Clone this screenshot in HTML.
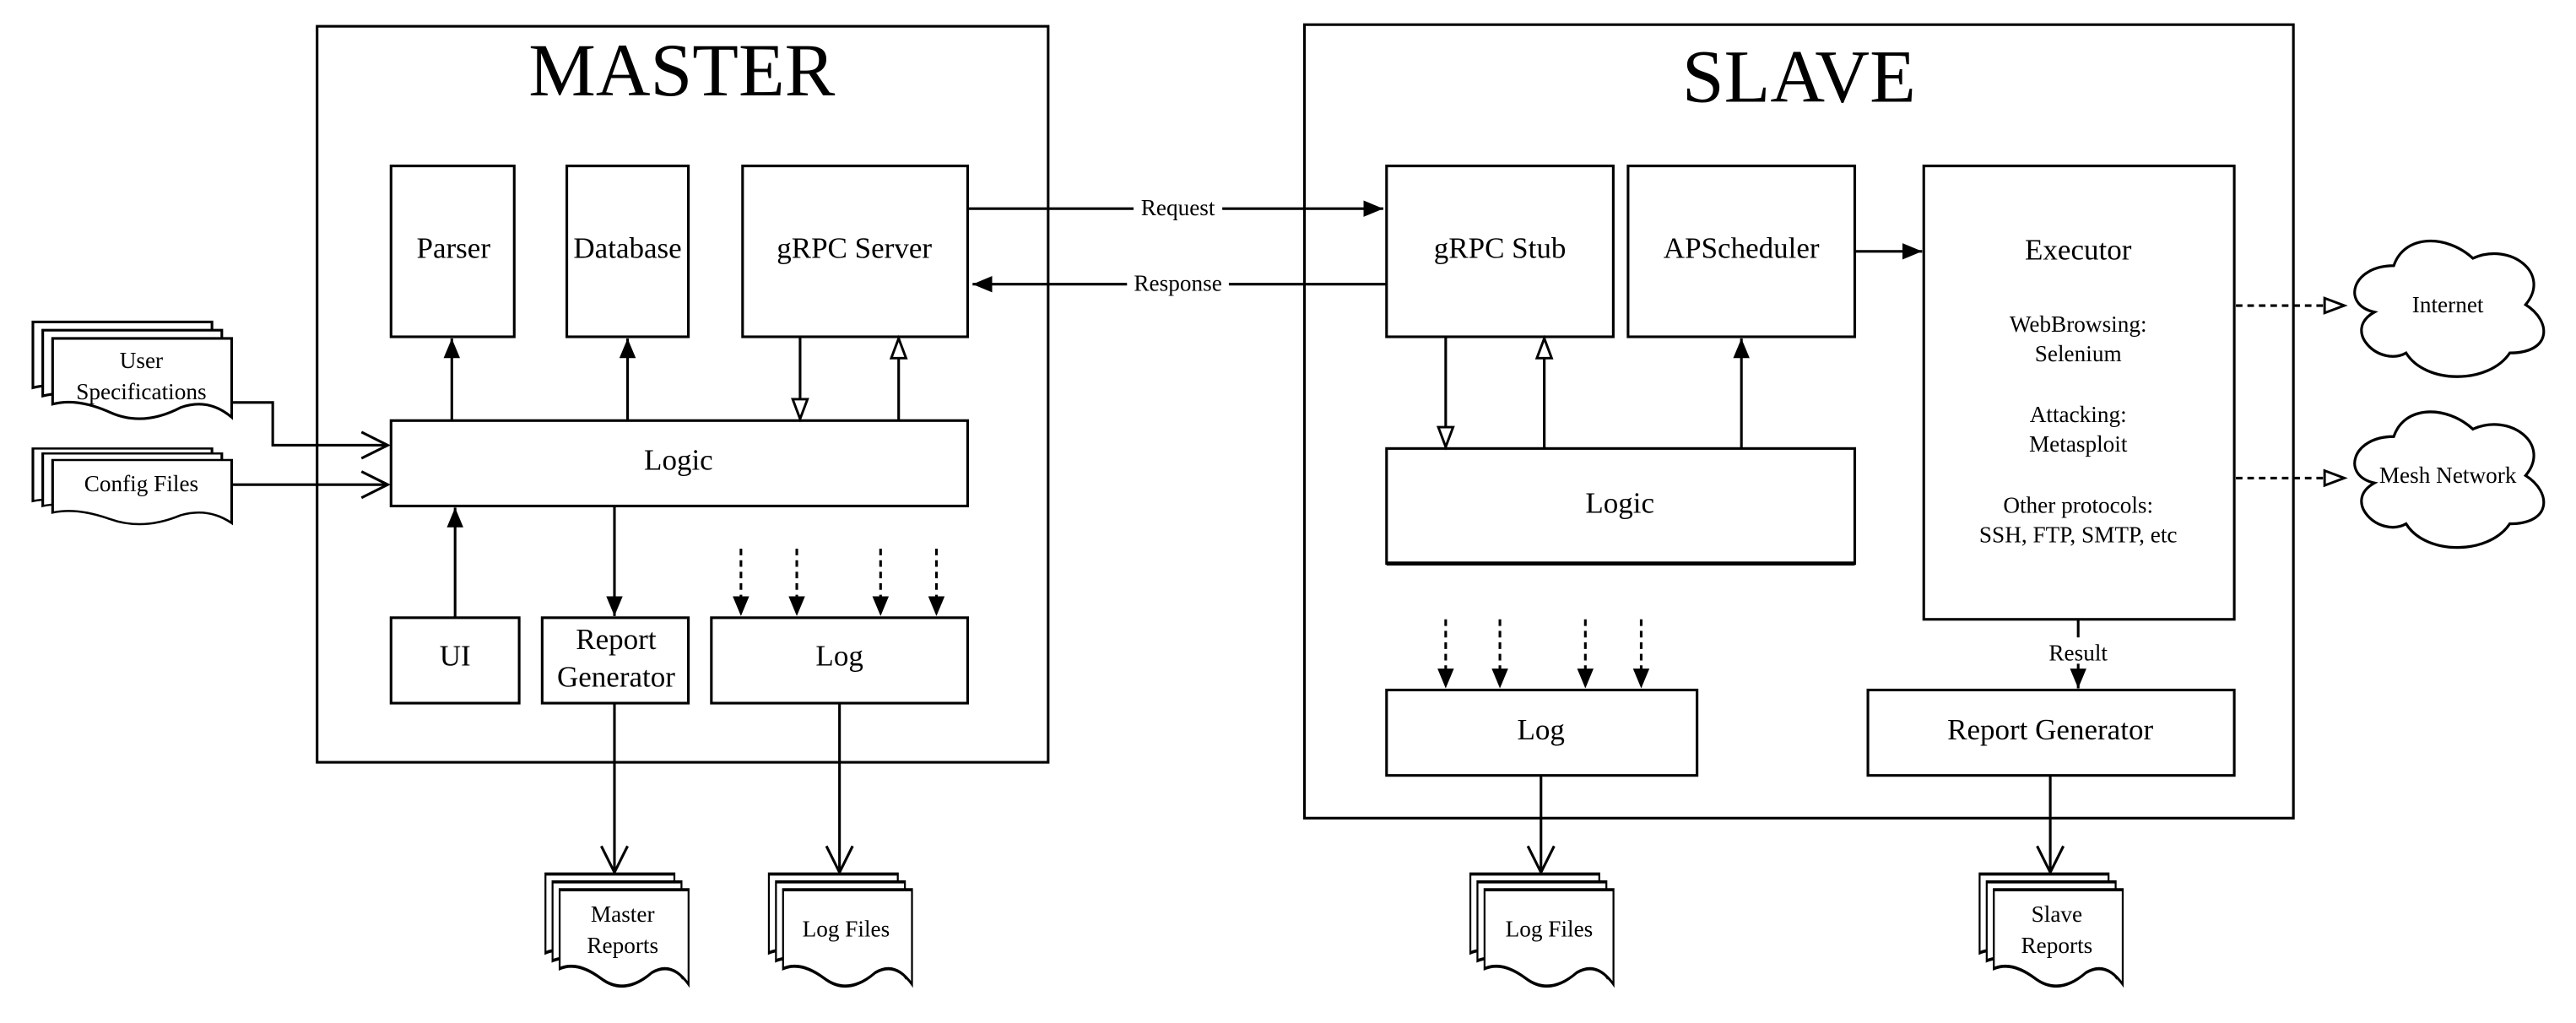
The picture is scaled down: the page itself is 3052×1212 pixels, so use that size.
<!DOCTYPE html>
<html><head><meta charset="utf-8"><style>
html,body{margin:0;padding:0;background:#fff}
svg{display:block}
text{font-family:"Liberation Serif",serif;fill:#000}
</style></head><body>
<svg width="3052" height="1212" viewBox="0 0 1568 622.7" xmlns="http://www.w3.org/2000/svg">
<defs>
<marker id="f" markerUnits="userSpaceOnUse" markerWidth="14" markerHeight="14" refX="12" refY="6" orient="auto"><path d="M0,1 L12,6 L0,11 Z" fill="#000"/></marker>
<marker id="o" markerUnits="userSpaceOnUse" markerWidth="16" markerHeight="14" refX="13" refY="6" orient="auto"><path d="M1,1.5 L13,6 L1,10.5 Z" fill="#fff" stroke="#000" stroke-width="1.5"/></marker>
<marker id="v" markerUnits="userSpaceOnUse" markerWidth="22" markerHeight="22" refX="17" refY="9" orient="auto"><path d="M1,1 L17,9 L1,17" fill="none" stroke="#000" stroke-width="1.6"/></marker>
<path id="pg" d="M0,0 H109 V48 Q95,36 78,42 Q55,54 35,45 Q15,36 0,40 Z" fill="#fff" stroke="#000" stroke-width="1.6"/>
<path id="cl" d="M30,21 C6,21 0,42 19,46 C0,56 22,76 37,68 C48,85 84,85 96,68 C120,68 120,51 105,42 C120,25 96,8 75,17 C60,4 36,4 30,21 Z" fill="#fff" stroke="#000" stroke-width="1.5"/>
</defs>
<g fill="none" stroke="#000" stroke-width="1.6">
<rect x="193" y="16" width="445" height="448" fill="#fff"/>
<rect x="238" y="101" width="75" height="104"/>
<rect x="345" y="101" width="74" height="104"/>
<rect x="452" y="101" width="137" height="104"/>
<rect x="238" y="256" width="351" height="52"/>
<rect x="238" y="376" width="78" height="52"/>
<rect x="330" y="376" width="89" height="52"/>
<rect x="433" y="376" width="156" height="52"/>
<line x1="275" y1="256" x2="275" y2="206" marker-end="url(#f)"/>
<line x1="382" y1="256" x2="382" y2="206" marker-end="url(#f)"/>
<line x1="487" y1="205" x2="487" y2="255" marker-end="url(#o)"/>
<line x1="547" y1="256" x2="547" y2="206" marker-end="url(#o)"/>
<line x1="277" y1="376" x2="277" y2="309" marker-end="url(#f)"/>
<line x1="374" y1="308" x2="374" y2="375" marker-end="url(#f)"/>
<g stroke-dasharray="4,3">
<line x1="451" y1="334" x2="451" y2="375" marker-end="url(#f)"/>
<line x1="485" y1="334" x2="485" y2="375" marker-end="url(#f)"/>
<line x1="536" y1="334" x2="536" y2="375" marker-end="url(#f)"/>
<line x1="570" y1="334" x2="570" y2="375" marker-end="url(#f)"/>
</g>
<line x1="374" y1="428" x2="374" y2="531" marker-end="url(#v)"/>
<line x1="511" y1="428" x2="511" y2="531" marker-end="url(#v)"/>
<polyline points="141,245 166,245 166,271 236,271" marker-end="url(#v)"/>
<line x1="141" y1="295" x2="236" y2="295" marker-end="url(#v)"/>
<line x1="589" y1="127" x2="842" y2="127" marker-end="url(#f)"/>
<line x1="844" y1="173" x2="592" y2="173" marker-end="url(#f)"/>
<rect x="794" y="15" width="602" height="483"/>
<rect x="844" y="101" width="138" height="104"/>
<rect x="991" y="101" width="138" height="104"/>
<rect x="1171" y="101" width="189" height="276"/>
<rect x="844" y="273" width="285" height="70"/>
<line x1="844" y1="343" x2="1129" y2="343" stroke-width="2.4"/>
<rect x="844" y="420" width="189" height="52"/>
<rect x="1137" y="420" width="223" height="52"/>
<line x1="880" y1="205" x2="880" y2="272" marker-end="url(#o)"/>
<line x1="940" y1="273" x2="940" y2="206" marker-end="url(#o)"/>
<line x1="1060" y1="273" x2="1060" y2="206" marker-end="url(#f)"/>
<line x1="1129" y1="153" x2="1170" y2="153" marker-end="url(#f)"/>
<line x1="1265" y1="377" x2="1265" y2="419" marker-end="url(#f)"/>
<g stroke-dasharray="4,3">
<line x1="880" y1="377" x2="880" y2="419" marker-end="url(#f)"/>
<line x1="913" y1="377" x2="913" y2="419" marker-end="url(#f)"/>
<line x1="965" y1="377" x2="965" y2="419" marker-end="url(#f)"/>
<line x1="999" y1="377" x2="999" y2="419" marker-end="url(#f)"/>
<line x1="1361" y1="186" x2="1427" y2="186" marker-end="url(#o)"/>
<line x1="1361" y1="291" x2="1427" y2="291" marker-end="url(#o)"/>
</g>
<line x1="938" y1="472" x2="938" y2="531" marker-end="url(#v)"/>
<line x1="1248" y1="472" x2="1248" y2="531" marker-end="url(#v)"/>
</g>
<g>
<use href="#pg" x="20" y="196"/><use href="#pg" x="26" y="201"/><use href="#pg" x="32" y="206"/>
<use href="#pg" x="20" y="273" transform="translate(20,273) scale(1,0.8) translate(-20,-273)"/>
<use href="#pg" x="26" y="276" transform="translate(26,276) scale(1,0.8) translate(-26,-276)"/>
<use href="#pg" x="32" y="280" transform="translate(32,280) scale(1,0.8) translate(-32,-280)"/>
</g>
<g transform="translate(332,532) scale(0.72,1.2)"><use href="#pg"/><use href="#pg" x="6" y="4"/><use href="#pg" x="12" y="8"/></g>
<g transform="translate(468,532) scale(0.72,1.2)"><use href="#pg"/><use href="#pg" x="6" y="4"/><use href="#pg" x="12" y="8"/></g>
<g transform="translate(895,532) scale(0.72,1.2)"><use href="#pg"/><use href="#pg" x="6" y="4"/><use href="#pg" x="12" y="8"/></g>
<g transform="translate(1205,532) scale(0.72,1.2)"><use href="#pg"/><use href="#pg" x="6" y="4"/><use href="#pg" x="12" y="8"/></g>
<g transform="translate(1425,138) scale(1.07,1.13)"><use href="#cl"/></g>
<g transform="translate(1425,242) scale(1.07,1.13)"><use href="#cl"/></g>
<rect x="690" y="118" width="54" height="16" fill="#fff"/>
<rect x="686" y="164" width="62" height="16" fill="#fff"/>
<rect x="1242" y="388" width="46" height="16" fill="#fff"/>
<g font-size="14" text-anchor="middle">
<text x="717" y="131">Request</text>
<text x="717" y="177">Response</text>
<text x="1265" y="402">Result</text>
</g>
<g text-anchor="middle">
<text x="415" y="58" font-size="46">MASTER</text>
<text x="1095" y="62" font-size="46">SLAVE</text>
<g font-size="18">
<text x="276" y="157">Parser</text>
<text x="382" y="157">Database</text>
<text x="520" y="157">gRPC Server</text>
<text x="413" y="286">Logic</text>
<text x="277" y="405">UI</text>
<text x="375" y="395">Report</text>
<text x="375" y="418">Generator</text>
<text x="511" y="405">Log</text>
<text x="913" y="157">gRPC Stub</text>
<text x="1060" y="157">APScheduler</text>
<text x="1265" y="158">Executor</text>
<text x="986" y="312">Logic</text>
<text x="938" y="450">Log</text>
<text x="1248" y="450">Report Generator</text>
</g>
<g font-size="14">
<text x="1265" y="202">WebBrowsing:</text>
<text x="1265" y="220">Selenium</text>
<text x="1265" y="257">Attacking:</text>
<text x="1265" y="275">Metasploit</text>
<text x="1265" y="312">Other protocols:</text>
<text x="1265" y="330">SSH, FTP, SMTP, etc</text>
<text x="86" y="224">User</text>
<text x="86" y="243">Specifications</text>
<text x="86" y="299">Config Files</text>
<text x="379" y="561">Master</text>
<text x="379" y="580">Reports</text>
<text x="515" y="570">Log Files</text>
<text x="943" y="570">Log Files</text>
<text x="1252" y="561">Slave</text>
<text x="1252" y="580">Reports</text>
<text x="1490" y="190">Internet</text>
<text x="1490" y="294">Mesh Network</text>
</g>
</g>
</svg>
</body></html>
